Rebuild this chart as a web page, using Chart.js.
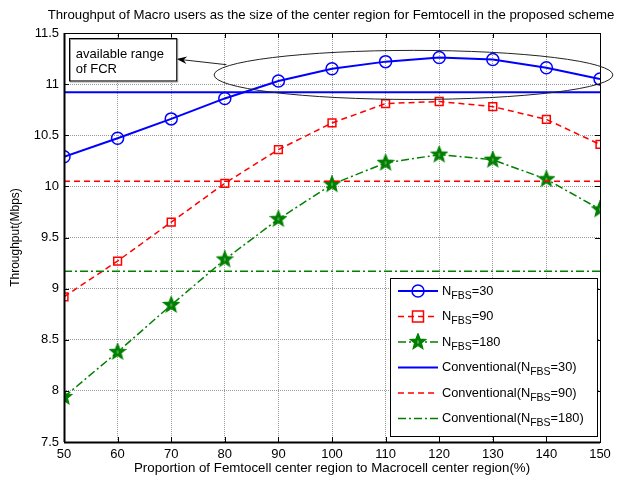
<!DOCTYPE html>
<html>
<head>
<meta charset="utf-8">
<script src="https://cdn.jsdelivr.net/npm/chart.js@4/dist/chart.umd.min.js"></script>
<style>
html, body { margin: 0; padding: 0; background: #fff; }
#wrap { width: 618px; height: 480px; }
</style>
</head>
<body>
<div id="wrap"><canvas id="chart" width="618" height="480"></canvas></div>
<script>
// ---------------- data ----------------
const proportion = [50, 60, 70, 80, 90, 100, 110, 120, 130, 140, 150];
const nfbs30  = [10.29, 10.47, 10.66, 10.86, 11.03, 11.15, 11.22, 11.26, 11.24, 11.16, 11.05];
const nfbs90  = [8.92, 9.27, 9.65, 10.03, 10.36, 10.62, 10.81, 10.83, 10.78, 10.655, 10.41];
const nfbs180 = [7.94, 8.38, 8.84, 9.285, 9.68, 10.02, 10.23, 10.31, 10.26, 10.07, 9.775];
const convX = [50, 150];
const conv30  = [10.92, 10.92];
const conv90  = [10.05, 10.05];
const conv180 = [9.17, 9.17];
const xTicks = [50, 60, 70, 80, 90, 100, 110, 120, 130, 140, 150];
const yTicks = [7.5, 8, 8.5, 9, 9.5, 10, 10.5, 11, 11.5];

const titleText = 'Throughput of Macro users as the size of the center region for Femtocell in the proposed scheme';
const FONT = '"Liberation Sans", Arial, sans-serif';

// legend entries: [name, subscript, tail, color, dash, marker]
const legendItems = [
  ['N', 'FBS', '=30', 'blue', [], 'circle'],
  ['N', 'FBS', '=90', 'red', [6, 4], 'rect'],
  ['N', 'FBS', '=180', 'green', [8, 3, 2, 3], 'star'],
  ['Conventional(N', 'FBS', '=30)', 'blue', [], null],
  ['Conventional(N', 'FBS', '=90)', 'red', [6, 4], null],
  ['Conventional(N', 'FBS', '=180)', 'green', [8, 3, 2, 3], null]
];

function makeStar(color, size) {
  const c = document.createElement('canvas');
  c.width = c.height = size;
  const g = c.getContext('2d');
  g.beginPath();
  for (let i = 0; i < 10; i++) {
    const r = i % 2 ? size * 0.2 : size * 0.46;
    const a = -Math.PI / 2 + i * Math.PI / 5;
    g.lineTo(size / 2 + r * Math.cos(a), size / 2 + r * Math.sin(a));
  }
  g.closePath();
  g.fillStyle = color;
  g.fill();
  g.strokeStyle = color;
  g.lineWidth = 1.2;
  g.stroke();
  // small light centre like the original markers
  g.fillStyle = 'rgba(180,220,180,0.9)';
  g.fillRect(size / 2 - 0.5, size / 2 - 1.5, 1, 3);
  return c;
}
const starImg = makeStar('green', 18);

function pts(xs, ys) {
  return xs.map((x, i) => ({ x: x, y: ys[i] }));
}

function drawMarker(ctx, type, x, y, color) {
  ctx.save();
  ctx.setLineDash([]);
  ctx.strokeStyle = color;
  ctx.lineWidth = 1.5;
  if (type === 'circle') {
    ctx.beginPath(); ctx.arc(x, y, 6, 0, Math.PI * 2); ctx.stroke();
  } else if (type === 'rect') {
    ctx.strokeRect(x - 5.5, y - 5.5, 11, 11);
  } else if (type === 'star') {
    ctx.drawImage(starImg, x - 9, y - 9);
  }
  ctx.restore();
}

const extras = {
  id: 'extras',
  afterDraw(chart) {
    const ctx = chart.ctx;
    const a = chart.chartArea;
    const xs = chart.scales.x, ys = chart.scales.y;
    ctx.save();

    // title
    ctx.fillStyle = '#000';
    ctx.font = '13.2px ' + FONT;
    ctx.textAlign = 'center';
    ctx.textBaseline = 'middle';
    ctx.fillText(titleText, 331, 15);

    // box + inner ticks
    ctx.strokeStyle = '#000';
    ctx.lineWidth = 1;
    ctx.setLineDash([]);
    ctx.strokeRect(a.left + 0.5, a.top + 0.5, a.right - a.left, a.bottom - a.top);
    ctx.beginPath();
    xTicks.forEach(v => {
      const px = Math.round(xs.getPixelForValue(v)) + 0.5;
      ctx.moveTo(px, a.bottom); ctx.lineTo(px, a.bottom - 5);
      ctx.moveTo(px, a.top); ctx.lineTo(px, a.top + 5);
    });
    yTicks.forEach(v => {
      const py = Math.round(ys.getPixelForValue(v)) + 0.5;
      ctx.moveTo(a.left, py); ctx.lineTo(a.left + 5, py);
      ctx.moveTo(a.right, py); ctx.lineTo(a.right - 5, py);
    });
    ctx.stroke();
    ctx.lineWidth = 2;
    ctx.beginPath();
    ctx.moveTo(a.left, a.bottom + 0.5); ctx.lineTo(a.right, a.bottom + 0.5);
    ctx.moveTo(a.left + 0.5, a.top); ctx.lineTo(a.left + 0.5, a.bottom);
    ctx.stroke();

    // ellipse around the N=30 peak region
    const cx = xs.getPixelForValue(115.2), cy = ys.getPixelForValue(11.09);
    const rx = xs.getPixelForValue(152.4) - cx;
    const ry = ys.getPixelForValue(10.85) - cy;
    ctx.lineWidth = 1;
    ctx.strokeStyle = '#222';
    ctx.beginPath();
    ctx.ellipse(cx, cy, rx, ry, 0, 0, Math.PI * 2);
    ctx.stroke();

    // arrow to the text box
    const sx = xs.getPixelForValue(80.3), sy = ys.getPixelForValue(11.19);
    const tx = xs.getPixelForValue(71.0), ty = ys.getPixelForValue(11.245);
    ctx.beginPath(); ctx.moveTo(sx, sy); ctx.lineTo(tx, ty); ctx.stroke();
    const ang = Math.atan2(ty - sy, tx - sx);
    ctx.fillStyle = '#000';
    ctx.beginPath();
    ctx.moveTo(tx, ty);
    ctx.lineTo(tx - 11 * Math.cos(ang - 0.35), ty - 11 * Math.sin(ang - 0.35));
    ctx.lineTo(tx - 7 * Math.cos(ang), ty - 7 * Math.sin(ang));
    ctx.lineTo(tx - 11 * Math.cos(ang + 0.35), ty - 11 * Math.sin(ang + 0.35));
    ctx.closePath();
    ctx.fill();

    // text box
    const bx1 = xs.getPixelForValue(50.9), bx2 = xs.getPixelForValue(70.9);
    const by1 = ys.getPixelForValue(11.455), by2 = ys.getPixelForValue(11.04);
    ctx.fillStyle = '#fff';
    ctx.fillRect(bx1, by1, bx2 - bx1, by2 - by1);
    ctx.strokeStyle = '#999';
    ctx.strokeRect(Math.round(bx1) + 1.5, Math.round(by1) + 1.5, bx2 - bx1, by2 - by1);
    ctx.strokeStyle = '#000';
    ctx.strokeRect(Math.round(bx1) + 0.5, Math.round(by1) + 0.5, bx2 - bx1, by2 - by1);
    ctx.fillStyle = '#000';
    ctx.font = '13px ' + FONT;
    ctx.textAlign = 'left';
    ctx.fillText('available range', bx1 + 7, by1 + 16.5);
    ctx.fillText('of FCR', bx1 + 7, by1 + 31.5);

    // legend
    const lx1 = a.right - 210, lx2 = a.right - 3;
    const ly1 = a.bottom - 164, ly2 = a.bottom - 6;
    ctx.fillStyle = '#fff';
    ctx.fillRect(lx1, ly1, lx2 - lx1, ly2 - ly1);
    ctx.strokeStyle = '#000';
    ctx.lineWidth = 1;
    ctx.strokeRect(Math.round(lx1) + 0.5, Math.round(ly1) + 0.5, lx2 - lx1, ly2 - ly1);
    legendItems.forEach((it, i) => {
      const y = ly1 + 13 + i * 25.5;
      ctx.strokeStyle = it[3];
      ctx.lineWidth = it[3] === 'blue' ? 2 : 1.5;
      ctx.setLineDash(it[4]);
      ctx.beginPath(); ctx.moveTo(lx1 + 8, y); ctx.lineTo(lx1 + 48, y); ctx.stroke();
      ctx.setLineDash([]);
      if (it[5]) drawMarker(ctx, it[5], lx1 + 28, y, it[3]);
      let x = lx1 + 52;
      ctx.fillStyle = '#000';
      ctx.font = '12.8px ' + FONT;
      ctx.textBaseline = 'middle';
      ctx.fillText(it[0], x, y);
      x += ctx.measureText(it[0]).width;
      ctx.font = '10.5px ' + FONT;
      ctx.fillText(it[1], x, y + 5);
      x += ctx.measureText(it[1]).width;
      ctx.font = '12.8px ' + FONT;
      ctx.fillText(it[2], x, y);
    });
    ctx.restore();
  }
};

const lineDs = (label, data, color, width, dash, pointStyle, radius) => ({
  label: label,
  data: data,
  borderColor: color,
  backgroundColor: 'rgba(0,0,0,0)',
  borderWidth: width,
  borderDash: dash,
  pointStyle: pointStyle,
  pointRadius: radius,
  pointBorderWidth: 1.5,
  pointBorderColor: color,
  pointBackgroundColor: 'rgba(0,0,0,0)',
  fill: false,
  tension: 0
});

new Chart(document.getElementById('chart'), {
  type: 'line',
  data: {
    datasets: [
      lineDs('Conventional(NFBS=30)', pts(convX, conv30), 'blue', 2, [], false, 0),
      lineDs('Conventional(NFBS=90)', pts(convX, conv90), 'red', 1.5, [6, 4], false, 0),
      lineDs('Conventional(NFBS=180)', pts(convX, conv180), 'green', 1.5, [8, 3, 2, 3], false, 0),
      lineDs('NFBS=30', pts(proportion, nfbs30), 'blue', 2, [], 'circle', 6),
      lineDs('NFBS=90', pts(proportion, nfbs90), 'red', 1.5, [6, 4], 'rect', 5.5),
      lineDs('NFBS=180', pts(proportion, nfbs180), 'green', 1.5, [8, 3, 2, 3], starImg, 9)
    ]
  },
  options: {
    responsive: false,
    animation: false,
    devicePixelRatio: 1,
    layout: { padding: { left: 8, right: 18, top: 33, bottom: 0 } },
    plugins: {
      legend: { display: false },
      title: { display: false },
      tooltip: { enabled: false }
    },
    scales: {
      x: {
        type: 'linear',
        min: 50,
        max: 150,
        afterFit: s => { s.height = 38; },
        afterBuildTicks: s => { s.ticks = xTicks.map(v => ({ value: v })); },
        grid: { color: '#9a9a9a', lineWidth: 1, drawTicks: false },
        border: { display: false, dash: [1, 1] },
        ticks: { color: '#000', font: { family: FONT, size: 13 }, padding: 5, maxRotation: 0 },
        title: { display: true, text: 'Proportion of Femtocell center region to Macrocell center region(%)', color: '#000', font: { family: FONT, size: 13.3 }, padding: { top: 0, bottom: 4 } }
      },
      y: {
        min: 7.5,
        max: 11.5,
        afterFit: s => { s.width = 56; },
        afterBuildTicks: s => { s.ticks = yTicks.map(v => ({ value: v })); },
        grid: { color: '#9a9a9a', lineWidth: 1, drawTicks: false },
        border: { display: false, dash: [1, 1] },
        ticks: { color: '#000', font: { family: FONT, size: 13 }, padding: 5, callback: v => String(v) },
        title: { display: true, text: 'Throughput(Mbps)', color: '#000', font: { family: FONT, size: 12 }, padding: { top: 0, bottom: 2 } }
      }
    }
  },
  plugins: [extras]
});
</script>
</body>
</html>
